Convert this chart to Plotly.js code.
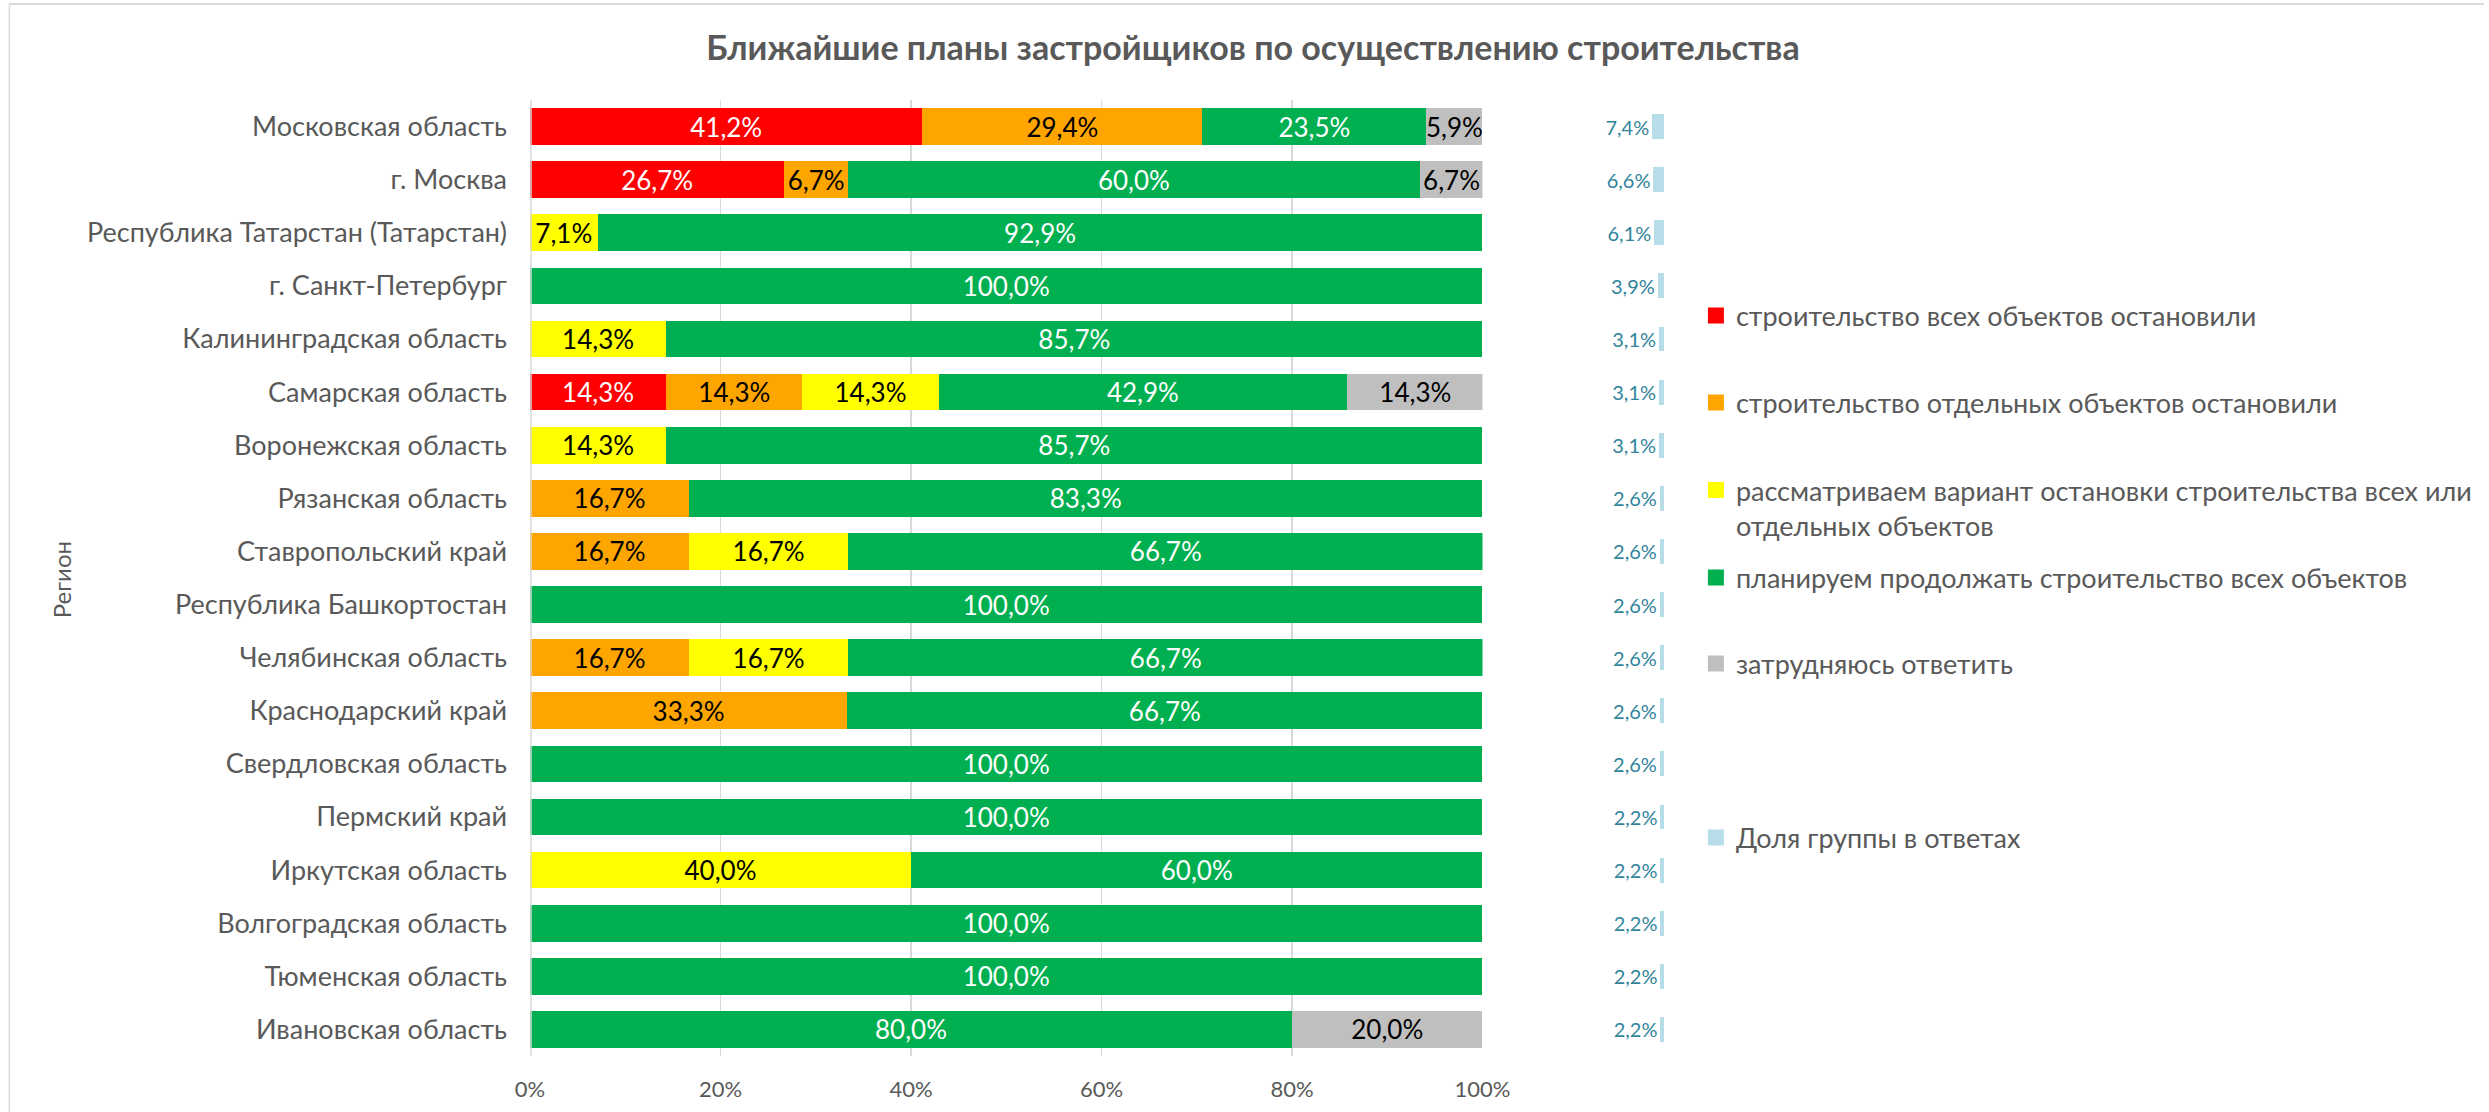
<!DOCTYPE html>
<html>
<head>
<meta charset="utf-8">
<script src="https://cdn.plot.ly/plotly-3.0.1.min.js"></script>
<style>
  html, body { margin: 0; padding: 0; background: #fff; }
  #chart { width: 2489px; height: 1112px; }
</style>
</head>
<body>
<div id="chart"></div>
<script>
// ---------------- DATA ----------------
const regions = [
  "Московская область",
  "г. Москва",
  "Республика Татарстан (Татарстан)",
  "г. Санкт-Петербург",
  "Калининградская область",
  "Самарская область",
  "Воронежская область",
  "Рязанская область",
  "Ставропольский край",
  "Республика Башкортостан",
  "Челябинская область",
  "Краснодарский край",
  "Свердловская область",
  "Пермский край",
  "Иркутская область",
  "Волгоградская область",
  "Тюменская область",
  "Ивановская область"
];

const stoppedAll      = [41.2, 26.7, null, null, null, 14.3, null, null, null, null, null, null, null, null, null, null, null, null];
const stoppedSome     = [29.4, 6.7, null, null, null, 14.3, null, 16.7, 16.7, null, 16.7, 33.3, null, null, null, null, null, null];
const consideringStop = [null, null, 7.1, null, 14.3, 14.3, 14.3, null, 16.7, null, 16.7, null, null, null, 40.0, null, null, null];
const continueAll     = [23.5, 60.0, 92.9, 100.0, 85.7, 42.9, 85.7, 83.3, 66.7, 100.0, 66.7, 66.7, 100.0, 100.0, 60.0, 100.0, 100.0, 80.0];
const hardToSay       = [5.9, 6.7, null, null, null, 14.3, null, null, null, null, null, null, null, null, null, null, null, 20.0];
const groupShare      = [7.4, 6.6, 6.1, 3.9, 3.1, 3.1, 3.1, 2.6, 2.6, 2.6, 2.6, 2.6, 2.6, 2.2, 2.2, 2.2, 2.2, 2.2];

const seriesNames = [
  "строительство всех объектов остановили",
  "строительство отдельных объектов остановили",
  "рассматриваем вариант остановки строительства всех или<br>отдельных объектов",
  "планируем продолжать строительство всех объектов",
  "затрудняюсь ответить"
];
const shareName = "Доля группы в ответах";
const xTickVals = [0, 20, 40, 60, 80, 100];
const xTickText = xTickVals.map(v => v + "%");
const chartTitle = "Ближайшие планы застройщиков по осуществлению строительства";
const yTitle = "Регион";

// ---------------- LAYOUT GEOMETRY ----------------
const W = 2489, H = 1112;
const M = { l: 530, r: 822, t: 100, b: 56 };
const PW = W - M.l - M.r, PH = H - M.t - M.b;
const px2x = p => (p - M.l) / PW;
const px2y = p => (H - M.b - p) / PH;

const FONT = "Lato, 'Open Sans', 'DejaVu Sans', sans-serif";
const GREY_TXT = "#595959";
const colors = ["#FF0000", "#FFA500", "#FFFF00", "#00B050", "#BFBFBF"];
const txtColors = ["#FFFFFF", "#000000", "#000000", "#FFFFFF", "#000000"];
const shareColor = "#B7DEE8";
const seriesData = [stoppedAll, stoppedSome, consideringStop, continueAll, hardToSay];

const mainEnd = 1485;      // pixel where 100% ends
const shareStart = 1500, shareEnd = 1667;
const pxPerPct = 1.6;

const traces = seriesData.map((vals, i) => ({
  type: "bar",
  orientation: "h",
  name: seriesNames[i],
  y: regions,
  x: vals,
  xaxis: "x",
  yaxis: "y",
  width: 0.69,
  marker: { color: colors[i] },
  texttemplate: "%{x:.1f}%",
  textposition: "inside",
  insidetextanchor: "middle",
  textangle: 0,
  constraintext: "none",
  insidetextfont: { family: FONT, size: 26, color: txtColors[i] },
  showlegend: false,
  hoverinfo: "skip"
}));

traces.push({
  type: "bar",
  orientation: "h",
  name: shareName,
  y: regions,
  x: groupShare,
  xaxis: "x2",
  yaxis: "y",
  width: 0.47,
  marker: { color: shareColor },
  texttemplate: "%{x:.1f}%",
  textposition: "outside",
  textangle: 0,
  cliponaxis: false,
  constraintext: "none",
  outsidetextfont: { family: FONT, size: 20, color: "#31849B" },
  showlegend: false,
  hoverinfo: "skip"
});

// legend entries (one legend box per entry, larger square keys)
const legendNames = seriesNames.concat([shareName]);
const legendColors = colors.concat([shareColor]);
legendNames.forEach((nm, i) => {
  traces.push({
    type: "bar",
    orientation: "h",
    name: nm,
    y: [regions[0]],
    x: [null],
    xaxis: i < 5 ? "x" : "x2",
    yaxis: "y",
    marker: { color: legendColors[i], line: { color: legendColors[i], width: 4 } },
    showlegend: true,
    legend: i === 0 ? "legend" : "legend" + (i + 1),
    hoverinfo: "skip"
  });
});

function legendAt(py) {
  return {
    x: px2x(1699), xanchor: "left",
    y: px2y(py), yanchor: "middle",
    bgcolor: "rgba(0,0,0,0)",
    borderwidth: 0,
    valign: "top",
    font: { family: FONT, size: 27, color: GREY_TXT }
  };
}

const layout = {
  width: W, height: H,
  margin: M,
  paper_bgcolor: "#FFFFFF",
  plot_bgcolor: "#FFFFFF",
  separators: ", ",
  barmode: "stack",
  showlegend: true,
  font: { family: FONT, color: GREY_TXT },
  title: {
    text: chartTitle,
    x: 1253 / W, xanchor: "center",
    y: 1 - 48 / H, yanchor: "middle",
    xref: "container", yref: "container",
    font: { family: FONT, size: 34, color: GREY_TXT, weight: "bold" }
  },
  xaxis: {
    domain: [0, px2x(mainEnd)],
    range: [0, 100],
    tickmode: "array",
    tickvals: xTickVals,
    ticktext: xTickText,
    showgrid: true,
    gridcolor: "#D9D9D9",
    gridwidth: 1.5,
    zeroline: false,
    showline: false,
    ticks: "",
    ticklabelstandoff: 18,
    tickfont: { family: FONT, size: 22, color: GREY_TXT },
    fixedrange: true
  },
  xaxis2: {
    domain: [px2x(shareStart), 1],
    range: [(shareEnd - shareStart) / pxPerPct, 0],
    anchor: "y",
    showgrid: false,
    zeroline: false,
    showticklabels: false,
    ticks: "",
    fixedrange: true
  },
  yaxis: {
    type: "category",
    autorange: "reversed",
    showgrid: false,
    zeroline: false,
    showline: false,
    ticks: "",
    ticklabelstandoff: 22,
    tickfont: { family: FONT, size: 27, color: GREY_TXT },
    fixedrange: true
  },
  legend: legendAt(316),
  legend2: legendAt(403),
  legend3: legendAt(508),
  legend4: legendAt(578),
  legend5: legendAt(664),
  legend6: legendAt(838),
  annotations: [{
    text: yTitle,
    xref: "paper", yref: "paper",
    x: px2x(60), y: px2y(580),
    xanchor: "center", yanchor: "middle",
    textangle: -90,
    showarrow: false,
    font: { family: FONT, size: 24, color: GREY_TXT }
  }],
  shapes: [
    { type: "line", xref: "paper", yref: "paper", x0: px2x(531), x1: px2x(531), y0: 0, y1: 1, line: { color: "#D9D9D9", width: 1.5 } },
    { type: "line", xref: "paper", yref: "paper", x0: px2x(8), x1: px2x(W), y0: px2y(4), y1: px2y(4), line: { color: "#D9D9D9", width: 2 } },
    { type: "line", xref: "paper", yref: "paper", x0: px2x(8), x1: px2x(8), y0: px2y(4), y1: px2y(H), line: { color: "#D9D9D9", width: 1.5 } }
  ]
};

Plotly.newPlot("chart", traces, layout, { displayModeBar: false, staticPlot: true });
</script>
</body>
</html>
